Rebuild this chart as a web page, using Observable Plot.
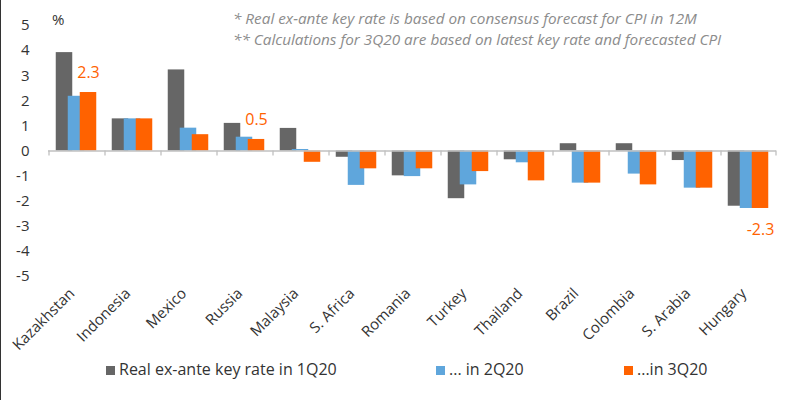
<!DOCTYPE html>
<html><head><meta charset="utf-8">
<script src="https://cdn.jsdelivr.net/npm/d3@7"></script>
<script src="https://cdn.jsdelivr.net/npm/@observablehq/plot@0.6"></script>
<style>
body{margin:0;background:#fff;}
#wrap{position:relative;width:800px;height:400px;overflow:hidden;font-family:"Open Sans",sans-serif;border-left:1px solid #333;box-sizing:border-box;}
#chart{position:absolute;left:-1px;top:0;}
#chart svg g[aria-label="fx-axis tick label"]{font-size:15px;transform:translate(-4px,15px);}
.note{position:absolute;left:232px;font-style:italic;color:#8c8c8c;font-size:15.3px;white-space:nowrap;line-height:20px;}
.unit{position:absolute;left:51px;top:9px;font-size:15px;color:#333;line-height:20px;}
.leg{position:absolute;top:359px;font-size:16px;color:#333;white-space:nowrap;line-height:20px;}
.leg i{display:inline-block;width:9px;height:9px;margin-right:4px;vertical-align:0px;}
</style></head><body><div id="wrap">
<div id="chart"></div>
<div class="unit">%</div>
<div class="note" style="top:8px">* Real ex-ante key rate is based on consensus forecast for CPI in 12M</div>
<div class="note" style="top:29px">** Calculations for 3Q20 are based on latest key rate and forecasted CPI</div>
<div id="legend"></div>
</div>
<script>
const countries = ["Kazakhstan","Indonesia","Mexico","Russia","Malaysia","S. Africa","Romania","Turkey","Thailand","Brazil","Colombia","S. Arabia","Hungary"];
const seriesNames = ["Real ex-ante key rate in 1Q20","... in 2Q20","...in 3Q20"];
const colors = ["#666666","#5fa6dc","#ff6200"];
const q1 = [3.92,1.28,3.23,1.1,0.9,-0.25,-0.99,-1.9,-0.35,0.29,0.29,-0.38,-2.2];
const q2 = [2.18,1.28,0.91,0.55,0.06,-1.37,-1.02,-1.35,-0.47,-1.28,-0.92,-1.48,-2.29];
const q3 = [2.33,1.28,0.65,0.46,-0.45,-0.71,-0.71,-0.82,-1.19,-1.28,-1.35,-1.48,-2.29];
const labeledCountries = ["Kazakhstan","Russia","Hungary"];
const yTicks = [5,4,3,2,1,0,-1,-2,-3,-4,-5];

const seriesValues = [q1,q2,q3];
const data = [];
seriesValues.forEach((vals, s) => vals.forEach((v, i) => data.push({country: countries[i], series: seriesNames[s], value: v})));
const labelData = data.filter(d => d.series === seriesNames[2] && labeledCountries.includes(d.country));

const chart = Plot.plot({
  width: 800, height: 340,
  marginTop: 25, marginBottom: 64, marginLeft: 48, marginRight: 24,
  style: {fontFamily: "Open Sans, sans-serif", color: "#333", background: "transparent", overflow: "visible"},
  fx: {domain: countries, padding: 0, axis: "bottom", label: null, tickRotate: -45, tickSize: 0, tickPadding: 10},
  x: {domain: seriesNames, padding: 0, paddingOuter: 0.74, axis: null},
  y: {domain: [-5,5], label: null},
  color: {domain: seriesNames, range: colors},
  marks: [
    Plot.axisY(yTicks, {tickSize: 0, tickPadding: 19, fontSize: 15, label: null, tickFormat: d => String(d)}),
    Plot.barY(data, {fx: "country", x: "series", y: "value", fill: "series", insetLeft: -2.25, insetRight: -2.25}),
    Plot.ruleY([0], {stroke: "#c0c0c0", strokeWidth: 1.3}),
    Plot.ruleX(countries, {fx: d => d, x: () => seriesNames[0], y1: 0, y2: -0.2, dx: -15.5, stroke: "#c0c0c0", strokeWidth: 1.3}),
    Plot.ruleX(countries.slice(-1), {fx: d => d, x: () => seriesNames[2], y1: 0, y2: -0.2, dx: 15.5, stroke: "#c0c0c0", strokeWidth: 1.3}),
    Plot.text(labelData.filter(d => d.value >= 0), {fx: "country", x: "series", y: "value", text: d => d.value.toFixed(1), dy: -20, fill: "#ff6200", fontSize: 16}),
    Plot.text(labelData.filter(d => d.value < 0), {fx: "country", x: "series", y: "value", text: d => d.value.toFixed(1), dy: 21, fill: "#ff6200", fontSize: 16})
  ]
});
document.getElementById("chart").appendChild(chart);

const legendLeft = [105, 435, 623];
const legend = document.getElementById("legend");
seriesNames.forEach((name, i) => {
  const el = document.createElement("div");
  el.className = "leg";
  el.style.left = legendLeft[i] + "px";
  el.innerHTML = `<i style="background:${colors[i]}"></i>${name}`;
  legend.appendChild(el);
});
</script></body></html>
